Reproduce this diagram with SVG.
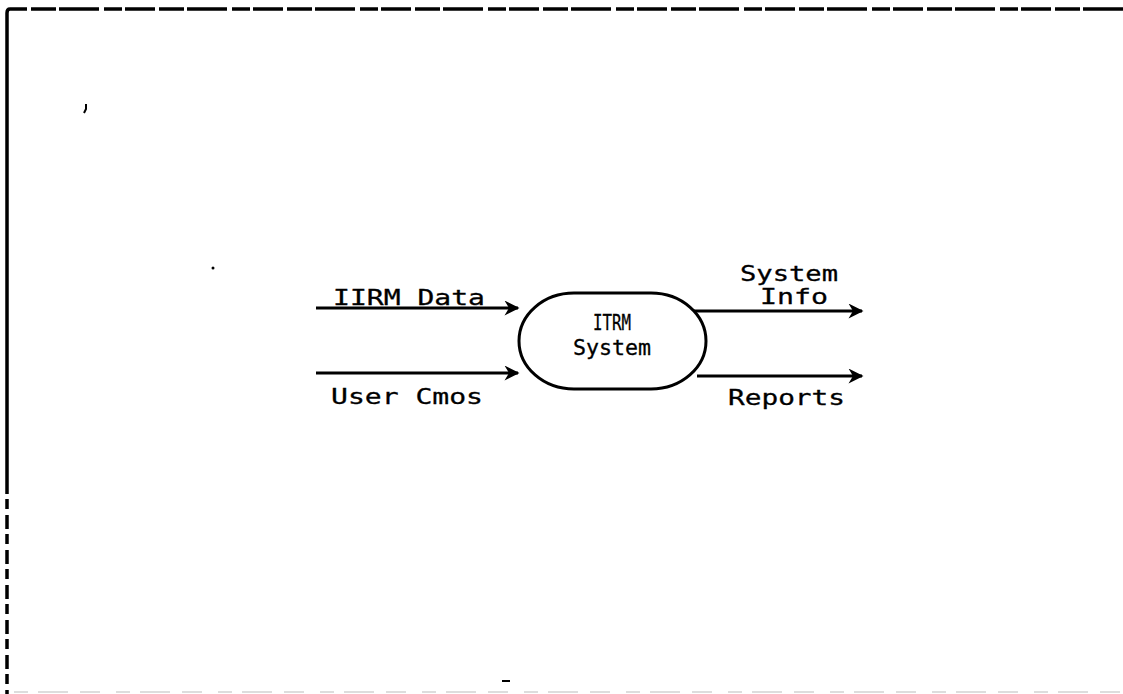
<svg xmlns="http://www.w3.org/2000/svg" width="1123" height="694" viewBox="0 0 1123 694">
<style>
.t{font-family:"DejaVu Sans Mono","Liberation Mono",monospace;font-size:22px;fill:#000;stroke:#000;stroke-width:0.3;}
.n{font-size:21px;}
.f{fill:none;stroke:#000;stroke-width:3.5;}
.c{fill:none;stroke:#000;stroke-width:3;}
</style>
<defs>
<marker id="ah" viewBox="0 0 10 10" refX="9" refY="5" markerWidth="6" markerHeight="5" markerUnits="strokeWidth" orient="auto">
<path d="M0,0 L10,5 L0,10 L3,5 z" fill="#000"/>
</marker>
</defs>
<rect width="1123" height="694" fill="#fff"/>
<g id="frame">
<path class="f" d="M1123,9 L10,9" stroke-dasharray="40,3,25,4,30,3,18,5"/>
<path class="f" d="M10,9 Q7,9 7,13 L7,480"/>
<path class="f" d="M7,480 L7,694" stroke-dasharray="14,5,10,6"/>
<line x1="14" y1="692" x2="1123" y2="692" stroke="#ddd" stroke-width="2" stroke-dasharray="14,10,30,12,20,16"/>
</g>
<g id="marks">
<path d="M86,104 l0,5 l-2,4" stroke="#000" stroke-width="2" fill="none"/>
<circle cx="213" cy="268" r="1.5" fill="#000"/>
<rect x="502" y="680" width="8" height="2" fill="#000"/>
</g>
<g id="node-itrm">
<rect class="c" x="519" y="293" width="187" height="96" rx="55" ry="48"/>
<text class="t n" x="612" y="330" text-anchor="middle" textLength="38" lengthAdjust="spacingAndGlyphs">ITRM</text>
<text class="t n" x="612" y="355" text-anchor="middle" textLength="78" lengthAdjust="spacingAndGlyphs">System</text>
</g>
<g id="connectors">
<line class="c" x1="316" y1="308" x2="518" y2="308" marker-end="url(#ah)"/>
<line class="c" x1="316" y1="373" x2="518" y2="373" marker-end="url(#ah)"/>
<line class="c" x1="694" y1="311" x2="862" y2="311" marker-end="url(#ah)"/>
<line class="c" x1="697" y1="376" x2="862" y2="376" marker-end="url(#ah)"/>
</g>
<g id="labels">
<text class="t" x="333" y="305" textLength="152" lengthAdjust="spacingAndGlyphs">IIRM Data</text>
<text class="t" x="331" y="404" textLength="152" lengthAdjust="spacingAndGlyphs">User Cmos</text>
<text class="t" x="740" y="281" textLength="98" lengthAdjust="spacingAndGlyphs">System</text>
<text class="t" x="760" y="304" textLength="68" lengthAdjust="spacingAndGlyphs">Info</text>
<text class="t" x="728" y="405" textLength="117" lengthAdjust="spacingAndGlyphs">Reports</text>
</g>
</svg>
